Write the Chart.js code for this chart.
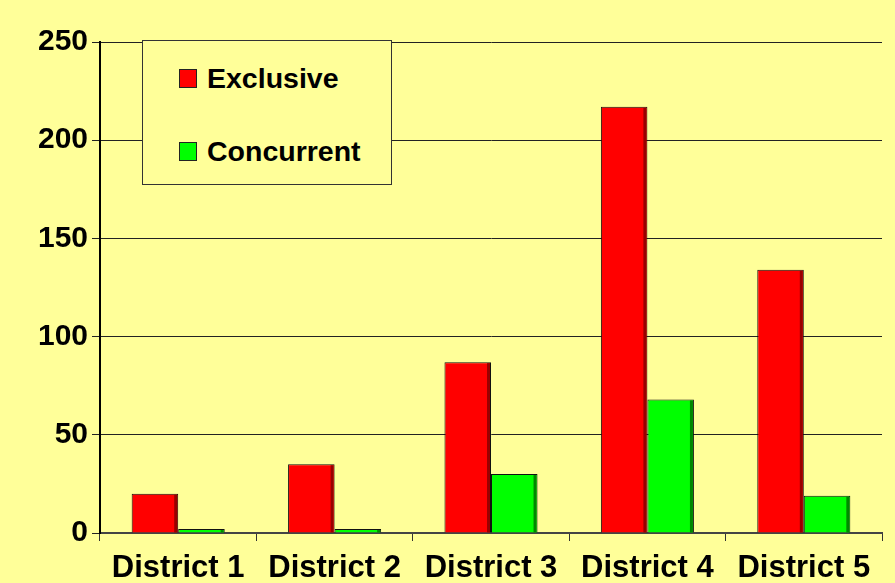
<!DOCTYPE html>
<html>
<head>
<meta charset="utf-8">
<script src="https://cdn.jsdelivr.net/npm/chart.js@4.4.1/dist/chart.umd.min.js"></script>
<style>
  html, body { margin: 0; padding: 0; background: #FFFF99; }
  #wrap { position: relative; width: 895px; height: 583px; }
  #legend {
    position: absolute; left: 142px; top: 40px; width: 250px; height: 145px;
    border: 1px solid #333; background: #FFFF99; box-sizing: border-box;
    font: bold 28.5px "Liberation Sans", Arial, sans-serif; color: #000;
  }
  .item { position: absolute; left: 36px; height: 30px; line-height: 30px; white-space: nowrap; }
  .item span.sw { display: inline-block; width: 16px; height: 17px; border: 1px solid #222; vertical-align: middle; margin-right: 10px; position: relative; top: -2px; }
</style>
</head>
<body>
<div id="wrap">
  <canvas id="chart" width="895" height="583"></canvas>
  <div id="legend">
    <div class="item" style="top:22px"><span class="sw" style="background:#FF0000"></span>Exclusive</div>
    <div class="item" style="top:95px"><span class="sw" style="background:#00FF00"></span>Concurrent</div>
  </div>
</div>
<script>
// data
const districts = ['District 1', 'District 2', 'District 3', 'District 4', 'District 5'];
const exclusive = [20, 35, 87, 217, 134];
const concurrent = [2, 2, 30, 68, 19];
const yTicks = [0, 50, 100, 150, 200, 250];

const FONT = { family: '"Liberation Sans", Arial, sans-serif', size: 30, weight: 'bold' };
const XFONT = { family: '"Liberation Sans", Arial, sans-serif', size: 31, weight: 'bold' };

// darker strip on the right edge of every bar, like the old 3D look
const barShade = {
    id: 'barShade',
    afterDatasetsDraw(chart) {
        const ctx = chart.ctx;
        chart.data.datasets.forEach((ds, i) => {
            chart.getDatasetMeta(i).data.forEach(bar => {
                const p = bar.getProps(['x', 'y', 'base', 'width']);
                const right = p.x + p.width / 2;
                ctx.save();
                ctx.fillStyle = ds.shade;
                ctx.fillRect(right - 4, p.y + 1, 3, p.base - p.y - 1);
                ctx.restore();
            });
        });
    }
};

new Chart(document.getElementById('chart'), {
    type: 'bar',
    data: {
        labels: districts,
        datasets: [
            { label: 'Exclusive', data: exclusive, backgroundColor: '#FF0000', shade: '#990000',
              borderColor: '#111', borderWidth: 1, borderSkipped: 'bottom' },
            { label: 'Concurrent', data: concurrent, backgroundColor: '#00FF00', shade: '#008800',
              borderColor: '#111', borderWidth: 1, borderSkipped: 'bottom' }
        ]
    },
    options: {
        responsive: false,
        animation: false,
        layout: { padding: { left: 0, top: 42, right: 13, bottom: 0 } },
        datasets: { bar: { categoryPercentage: 0.595, barPercentage: 1.0 } },
        plugins: { legend: { display: false }, tooltip: { enabled: false } },
        scales: {
            x: {
                grid: { display: true, drawOnChartArea: false, color: '#333', tickLength: 8, offset: true },
                border: { color: '#444', width: 2 },
                ticks: { color: '#000', font: XFONT, padding: 9 },
                afterFit: s => { s.height = 50; }
            },
            y: {
                min: 0, max: 250,
                afterBuildTicks: s => { s.ticks = yTicks.map(v => ({ value: v })); },
                grid: { color: '#222', lineWidth: 1, tickLength: 8 },
                border: { color: '#000', width: 2 },
                ticks: { color: '#000', font: FONT, padding: 4 },
                afterFit: s => { s.width = 100; }
            }
        }
    },
    plugins: [barShade]
});
</script>
</body>
</html>
